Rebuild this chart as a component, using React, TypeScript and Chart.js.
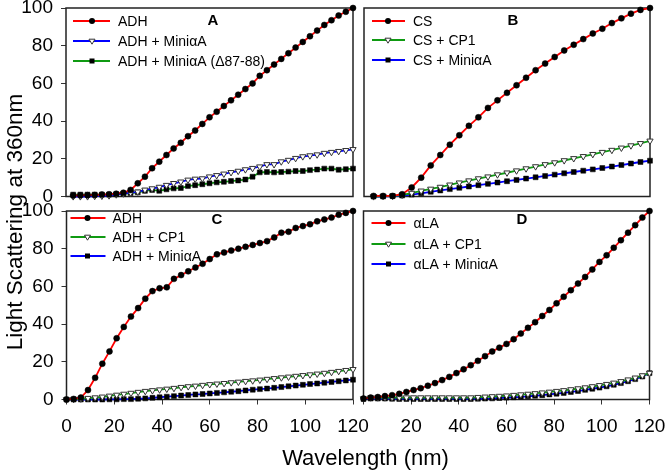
import React, { useEffect, useRef } from 'react';
import { Chart, registerables } from 'chart.js';

Chart.register(...registerables);

const FONT = '"Liberation Sans", Arial, Helvetica, sans-serif';

// x grids (wavelength)
const xFrom3Step3 = [3, 6, 9, 12, 15, 18, 21, 24, 27, 30, 33, 36, 39, 42, 45, 48, 51, 54, 57, 60, 63, 66, 69, 72, 75, 78, 81, 84, 87, 90, 93, 96, 99, 102, 105, 108, 111, 114, 117, 120];
const xFrom0Step3 = [0, 3, 6, 9, 12, 15, 18, 21, 24, 27, 30, 33, 36, 39, 42, 45, 48, 51, 54, 57, 60, 63, 66, 69, 72, 75, 78, 81, 84, 87, 90, 93, 96, 99, 102, 105, 108, 111, 114, 117, 120];
const xFrom4Step4 = [4, 8, 12, 16, 20, 24, 28, 32, 36, 40, 44, 48, 52, 56, 60, 64, 68, 72, 76, 80, 84, 88, 92, 96, 100, 104, 108, 112, 116, 120];

// Panel A
const aADH = [0.5, 0.6, 0.7, 0.8, 1, 1.2, 1.5, 2, 3.5, 7, 10.5, 15, 18.5, 22, 25.5, 28.5, 32, 35, 38.5, 42, 45, 48, 51, 54, 57, 60, 64, 67, 70, 73, 76, 79, 82, 85, 88, 91, 93.5, 96, 98, 100];
const aMini = [0, 0, 0, 0.2, 0.3, 0.5, 1, 1.5, 2, 2.5, 3.5, 4.2, 5, 6, 7, 7.8, 8.8, 9.3, 9.5, 10.5, 11.2, 12, 12.8, 13.5, 14.3, 15, 15.8, 17, 17, 18.5, 19.3, 20.3, 21.2, 21.7, 22.2, 23, 23.5, 24, 24.5, 25];
const aDelta = [1, 1, 1, 1, 1, 1, 1.2, 1.4, 1.8, 2.2, 3, 3.5, 3, 3.8, 4.3, 4.5, 5.5, 6, 6.5, 7, 7.5, 7.8, 8.2, 8.5, 9, 10.5, 12.8, 13, 12.8, 13, 13.2, 13.5, 13.5, 14, 14.3, 14.8, 14.8, 14.2, 14.5, 14.8];

// Panel B
const bCS = [0.3, 0.3, 0.3, 1.2, 4.8, 10, 16.5, 22, 27.5, 32.5, 37.5, 42, 47, 51, 55, 59, 63, 67, 70.5, 74, 77.5, 80.5, 83.5, 86.5, 89, 92, 94.5, 97, 99, 100];
const bCP1 = [0, 0.2, 0.3, 0.8, 1.8, 3, 4, 5, 6.2, 7.3, 8.4, 9.5, 10.5, 11.6, 12.6, 13.7, 14.8, 15.9, 17, 18, 19.1, 20.2, 21.3, 22.4, 23.5, 24.6, 25.8, 27, 28.2, 29.5];
const bMini = [0, 0, 0.2, 0.5, 1, 1.7, 2.5, 3.2, 3.9, 4.6, 5.3, 6, 6.7, 7.4, 8.1, 8.8, 9.5, 10.2, 10.9, 11.6, 12.3, 13, 13.7, 14.4, 15.1, 15.9, 16.7, 17.5, 18.3, 19];

// Panel C
const cADH = [0, 0.3, 1, 5, 11.5, 19, 25.5, 32.5, 38.5, 44, 48.5, 53.5, 57.5, 59, 59.5, 64, 66, 68, 70, 72, 74.5, 77, 78, 79, 80, 81, 82, 83, 84, 86, 88.5, 89, 91, 92, 93, 94.5, 95.5, 96.5, 98, 99, 100];
const cCP1 = [0, 0.2, 0.4, 0.7, 1, 1.4, 1.9, 2.4, 2.9, 3.4, 3.9, 4.4, 4.8, 5.2, 5.6, 6, 6.5, 6.9, 7.2, 7.6, 8, 8.3, 8.6, 9, 9.3, 9.7, 10, 10.4, 10.8, 11.2, 11.6, 12, 12.4, 12.8, 13.2, 13.6, 14, 14.5, 15, 15.5, 16];
const cMini = [0, 0, 0, 0, 0, 0, 0.1, 0.1, 0.2, 0.2, 0.4, 0.6, 0.9, 1.2, 1.5, 1.8, 2.1, 2.4, 2.7, 2.9, 3.2, 3.5, 3.8, 4.1, 4.4, 4.8, 5.2, 5.5, 5.8, 6.2, 6.6, 7, 7.4, 7.8, 8.2, 8.5, 8.9, 9.3, 9.7, 10.1, 10.5];

// Panel D
const dLA = [0.5, 1, 1.3, 1.8, 2.3, 3, 4, 5, 6, 7.3, 8.7, 10.3, 12, 14, 16, 18.2, 20.5, 23, 25.5, 27.5, 29.5, 32, 35, 38, 41, 44.3, 47.5, 51, 54.5, 58, 61.5, 65, 69, 73, 76.5, 80.5, 84.5, 88.5, 92.5, 96.5, 100];
const dCP1 = [0.5, 1, 1, 1, 1, 1, 1, 1, 1, 1, 1, 1, 1, 1, 1, 1, 1.2, 1.4, 1.6, 1.8, 2, 2.3, 2.6, 2.9, 3.2, 3.6, 4, 4.4, 4.8, 5.3, 5.8, 6.3, 6.9, 7.5, 8.1, 8.8, 9.6, 10.5, 11.5, 12.7, 14];
const dMini = [0.3, 0.5, 0.5, 0.5, 0.4, 0.3, 0.3, 0.3, 0.3, 0.3, 0.3, 0.3, 0.3, 0.3, 0.3, 0.3, 0.4, 0.5, 0.6, 0.8, 1, 1.2, 1.4, 1.7, 2, 2.3, 2.7, 3.1, 3.5, 4, 4.5, 5.1, 5.7, 6.3, 7, 7.8, 8.7, 9.7, 10.8, 12.2, 14];

const xTicks = [0, 20, 40, 60, 80, 100, 120];
const yTicks = [0, 20, 40, 60, 80, 100];

const RED = '#ff0000';
const BLUE = '#0000ff';
const GREEN = '#0f9a12';

type Marker = 'circle' | 'tri' | 'square';
type Series = { label: string; xs: number[]; ys: number[]; color: string; marker: Marker };
type PanelCfg = {
  left: number; top: number; width: number; height: number;
  pad: { left: number; top: number; right: number; bottom: number };
  showY: boolean; showX: boolean; hideZeroX: boolean;
  letter: string; letterPos: [number, number];
  legend: { x0: number; x1: number; mx: number; tx: number; rows: number[] };
  series: Series[];
};

// canvas layout: chart area = [pad.left + yAxisW, pad.top] .. [width - pad.right, height - pad.bottom - xAxisH]
const panels: PanelCfg[] = [
  {
    left: 0, top: 0, width: 372, height: 210,
    pad: { left: 0, top: 8, right: 19, bottom: 13.5 },
    showY: true, showX: false, hideZeroX: false,
    letter: 'A', letterPos: [213, 21],
    legend: { x0: 7, x1: 44, mx: 26, tx: 52, rows: [13, 33, 53] },
    series: [
      { label: 'ADH', xs: xFrom3Step3, ys: aADH, color: RED, marker: 'circle' },
      { label: 'ADH + MiniαA', xs: xFrom3Step3, ys: aMini, color: BLUE, marker: 'tri' },
      { label: 'ADH + MiniαA (Δ87-88)', xs: xFrom3Step3, ys: aDelta, color: GREEN, marker: 'square' },
    ],
  },
  {
    left: 355, top: 0, width: 311, height: 210,
    pad: { left: 9, top: 8, right: 16, bottom: 13.5 },
    showY: false, showX: false, hideZeroX: false,
    letter: 'B', letterPos: [158, 21],
    legend: { x0: 8, x1: 41, mx: 24, tx: 49, rows: [13, 32, 52] },
    series: [
      { label: 'CS', xs: xFrom4Step4, ys: bCS, color: RED, marker: 'circle' },
      { label: 'CS + CP1', xs: xFrom4Step4, ys: bCP1, color: GREEN, marker: 'tri' },
      { label: 'CS + MiniαA', xs: xFrom4Step4, ys: bMini, color: BLUE, marker: 'square' },
    ],
  },
  {
    left: 0, top: 198, width: 380, height: 272,
    pad: { left: 0.5, top: 13, right: 27, bottom: 0 },
    showY: true, showX: true, hideZeroX: false,
    letter: 'C', letterPos: [217, 22],
    legend: { x0: 4, x1: 39, mx: 21, tx: 46, rows: [7, 26, 45] },
    series: [
      { label: 'ADH', xs: xFrom0Step3, ys: cADH, color: RED, marker: 'circle' },
      { label: 'ADH + CP1', xs: xFrom0Step3, ys: cCP1, color: GREEN, marker: 'tri' },
      { label: 'ADH + MiniαA', xs: xFrom0Step3, ys: cMini, color: BLUE, marker: 'square' },
    ],
  },
  {
    left: 355, top: 198, width: 311, height: 272,
    pad: { left: 8.5, top: 13, right: 16.5, bottom: 0 },
    showY: false, showX: true, hideZeroX: true,
    letter: 'D', letterPos: [167, 22],
    legend: { x0: 8, x1: 42, mx: 25, tx: 50, rows: [12, 33, 53] },
    series: [
      { label: 'αLA', xs: xFrom0Step3, ys: dLA, color: RED, marker: 'circle' },
      { label: 'αLA + CP1', xs: xFrom0Step3, ys: dCP1, color: GREEN, marker: 'tri' },
      { label: 'αLA + MiniαA', xs: xFrom0Step3, ys: dMini, color: BLUE, marker: 'square' },
    ],
  },
];

function drawMarker(ctx: CanvasRenderingContext2D, kind: Marker, x: number, y: number) {
  ctx.save();
  if (kind === 'circle') {
    ctx.beginPath();
    ctx.arc(x, y, 3, 0, Math.PI * 2);
    ctx.fillStyle = '#000';
    ctx.fill();
  } else if (kind === 'square') {
    ctx.fillStyle = '#000';
    ctx.fillRect(x - 2.5, y - 2.5, 5, 5);
  } else {
    ctx.beginPath();
    ctx.moveTo(x - 3, y - 1.8);
    ctx.lineTo(x + 3, y - 1.8);
    ctx.lineTo(x, y + 3.2);
    ctx.closePath();
    ctx.fillStyle = '#fff';
    ctx.fill();
    ctx.lineWidth = 1;
    ctx.strokeStyle = '#333';
    ctx.stroke();
  }
  ctx.restore();
}

function pointProps(m: Marker) {
  if (m === 'circle') return { pointStyle: 'circle', pointRadius: 3, pointBackgroundColor: '#000', pointBorderColor: '#000', pointBorderWidth: 0.5, pointRotation: 0 };
  if (m === 'square') return { pointStyle: 'rect', pointRadius: 3.5, pointBackgroundColor: '#000', pointBorderColor: '#000', pointBorderWidth: 0.5, pointRotation: 0 };
  return { pointStyle: 'triangle', pointRadius: 3.6, pointBackgroundColor: '#fff', pointBorderColor: '#333', pointBorderWidth: 1, pointRotation: 180 };
}

function zeroPadding(s: any) {
  s.paddingTop = 0;
  s.paddingBottom = 0;
  s.paddingLeft = 0;
  s.paddingRight = 0;
}

function Panel({ cfg }: { cfg: PanelCfg }) {
  const ref = useRef<HTMLCanvasElement | null>(null);
  useEffect(() => {
    if (!ref.current) return;
    const decor = {
      id: 'decor' + cfg.letter,
      beforeDatasetsDraw(chart: any) {
        const { ctx, chartArea: a } = chart;
        ctx.save();
        ctx.strokeStyle = '#222';
        ctx.lineWidth = 1.5;
        ctx.strokeRect(a.left, a.top, a.right - a.left, a.bottom - a.top);
        ctx.restore();
      },
      afterDraw(chart: any) {
        const { ctx, chartArea: a } = chart;
        ctx.save();
        const L = cfg.legend;
        cfg.series.forEach((s, i) => {
          const y = a.top + L.rows[i];
          ctx.beginPath();
          ctx.moveTo(a.left + L.x0, y);
          ctx.lineTo(a.left + L.x1, y);
          ctx.strokeStyle = s.color;
          ctx.lineWidth = 1.8;
          ctx.stroke();
          drawMarker(ctx, s.marker, a.left + L.mx, y);
          ctx.fillStyle = '#000';
          ctx.font = `14px ${FONT}`;
          ctx.textBaseline = 'middle';
          ctx.textAlign = 'left';
          ctx.fillText(s.label, a.left + L.tx, y + 1);
        });
        ctx.font = `bold 15px ${FONT}`;
        ctx.textAlign = 'center';
        ctx.textBaseline = 'middle';
        ctx.fillStyle = '#000';
        ctx.fillText(cfg.letter, cfg.letterPos[0], cfg.letterPos[1]);
        ctx.restore();
      },
    };
    const chart = new Chart(ref.current, {
      type: 'line',
      data: {
        datasets: cfg.series.map((s) => ({
          label: s.label,
          data: s.xs.map((x, i) => ({ x, y: s.ys[i] })),
          borderColor: s.color,
          borderWidth: 1.8,
          tension: 0,
          fill: false,
          clip: 8,
          ...pointProps(s.marker),
        })) as any,
      },
      options: {
        animation: false,
        responsive: false,
        events: [],
        layout: { padding: cfg.pad, autoPadding: false } as any,
        plugins: { legend: { display: false }, tooltip: { enabled: false } },
        scales: {
          x: {
            type: 'linear',
            min: 0,
            max: 120,
            display: cfg.showX,
            afterFit: (s: any) => { s.height = cfg.showX ? 70.5 : 0; zeroPadding(s); },
            border: { display: false },
            grid: { display: true, drawOnChartArea: false, drawTicks: true, tickLength: 5, color: '#333', lineWidth: 1 },
            afterBuildTicks: (s: any) => { s.ticks = xTicks.map((v) => ({ value: v })); },
            ticks: {
              padding: 11,
              color: '#000',
              font: { family: FONT, size: 19 },
              maxRotation: 0,
              autoSkip: false,
              callback: (v: any) => (cfg.hideZeroX && Number(v) === 0 ? '' : String(v)),
            },
          },
          y: {
            type: 'linear',
            min: 0,
            max: 100,
            display: cfg.showY,
            afterFit: (s: any) => { s.width = cfg.showY ? 66 : 0; zeroPadding(s); },
            border: { display: false },
            grid: { display: true, drawOnChartArea: false, drawTicks: true, tickLength: 5, color: '#333', lineWidth: 1 },
            afterBuildTicks: (s: any) => { s.ticks = yTicks.map((v) => ({ value: v })); },
            ticks: {
              padding: 8,
              color: '#000',
              font: { family: FONT, size: 19 },
              autoSkip: false,
            },
          },
        },
      } as any,
      plugins: [decor as any],
    });
    return () => chart.destroy();
  }, [cfg]);
  return (
    <canvas
      ref={ref}
      width={cfg.width}
      height={cfg.height}
      style={{ position: 'absolute', left: cfg.left, top: cfg.top, width: cfg.width, height: cfg.height }}
    />
  );
}

export default function App() {
  return (
    <div style={{ position: 'absolute', left: 0, top: 0, width: 666, height: 470, background: '#fff', overflow: 'hidden', fontFamily: FONT }}>
      {panels.map((p) => (
        <Panel key={p.letter} cfg={p} />
      ))}
      <div
        style={{
          position: 'absolute', left: 365.5 - 150, top: 457.5 - 13, width: 300, height: 26,
          lineHeight: '26px', fontSize: 22, textAlign: 'center', color: '#000', whiteSpace: 'nowrap',
        }}
      >
        Wavelength (nm)
      </div>
      <div
        style={{
          position: 'absolute', left: 15 - 150, top: 222 - 13, width: 300, height: 26,
          lineHeight: '26px', fontSize: 22.5, textAlign: 'center', color: '#000', whiteSpace: 'nowrap',
          transform: 'rotate(-90deg)', transformOrigin: '50% 50%',
        }}
      >
        Light Scattering at 360nm
      </div>
    </div>
  );
}
